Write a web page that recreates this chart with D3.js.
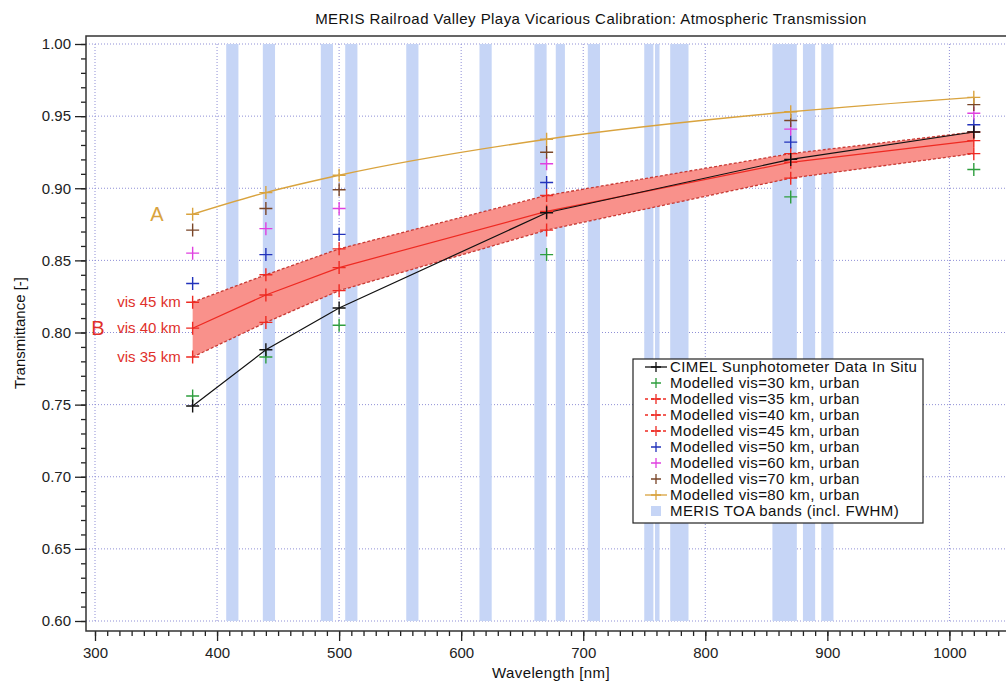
<!DOCTYPE html>
<html>
<head>
<meta charset="utf-8">
<script src="https://cdn.jsdelivr.net/npm/d3@7"></script>
<style>
  body { margin: 0; background: #fff; }
  svg { display: block; font-family: "Liberation Sans", Arial, sans-serif; }
  .tick text { font-size: 15px; fill: #222; }
  .tick line { stroke: #222; stroke-width: 1.3; }
</style>
</head>
<body>
<svg width="1006" height="682"></svg>
<script>
// wavelengths of the CIMEL channels (nm)
const wavelengths = [380, 440, 500, 670, 870, 1020]

const cimel = [0.749, 0.788, 0.817, 0.883, 0.920, 0.939]
const vis30 = [0.756, 0.783, 0.805, 0.854, 0.894, 0.913]
const vis35 = [0.783, 0.807, 0.829, 0.871, 0.907, 0.924]
const vis40 = [0.803, 0.826, 0.845, 0.884, 0.918, 0.933]
const vis45 = [0.821, 0.840, 0.858, 0.895, 0.924, 0.939]
const vis50 = [0.834, 0.854, 0.868, 0.904, 0.932, 0.944]
const vis60 = [0.855, 0.872, 0.886, 0.917, 0.941, 0.952]
const vis70 = [0.871, 0.886, 0.899, 0.925, 0.947, 0.958]
const vis80 = [0.882, 0.897, 0.909, 0.934, 0.953, 0.963]

// MERIS TOA bands: centre and full width (nm)
const bandCenters = [412.5, 442.5, 490, 510, 560, 620, 665, 681.25, 708.75, 753.75, 760.625, 778.75, 865, 885, 900]
const bandWidths = [10, 10, 10, 10, 10, 10, 10, 7.5, 10, 7.5, 3.75, 15, 20, 10, 10]

const yTicks = [0.60, 0.65, 0.70, 0.75, 0.80, 0.85, 0.90, 0.95, 1.00]
const xTicks = [300, 400, 500, 600, 700, 800, 900, 1000]

const legendLabels = [
  'CIMEL Sunphotometer Data In Situ',
  'Modelled vis=30 km, urban',
  'Modelled vis=35 km, urban',
  'Modelled vis=40 km, urban',
  'Modelled vis=45 km, urban',
  'Modelled vis=50 km, urban',
  'Modelled vis=60 km, urban',
  'Modelled vis=70 km, urban',
  'Modelled vis=80 km, urban',
  'MERIS TOA bands (incl. FWHM)'
]

const colors = {
  black: '#111',
  green: '#2e9e3e',
  red: '#ee2a22',
  blue: '#2233bb',
  pink: '#e040e0',
  brown: '#7a4628',
  gold: '#d9a33e',
  band: '#c6d5f6',
  fill: '#f9918b',
  grid: '#8f8fd6'
}

const svg = d3.select('svg')
const width = +svg.attr('width')
const height = +svg.attr('height')

const frame = { left: 86, top: 36, right: width, bottom: 631 }

const xScale = d3.scaleLinear().domain([300, 1000]).range([95, 949.4])
const yScale = d3.scaleLinear().domain([0.6, 1.0]).range([621, 44])

const toPoints = values => values.map((v, i) => ({ x: wavelengths[i], y: v }))

// grid
const grid = svg.append('g')
grid.selectAll('.hgrid').data(yTicks).enter().append('line')
  .attr('x1', frame.left).attr('x2', frame.right)
  .attr('y1', d => yScale(d)).attr('y2', d => yScale(d))
  .style('stroke', colors.grid).style('stroke-dasharray', '1,2')
grid.selectAll('.vgrid').data(xTicks).enter().append('line')
  .attr('x1', d => xScale(d)).attr('x2', d => xScale(d))
  .attr('y1', yScale(1.0)).attr('y2', yScale(0.6))
  .style('stroke', colors.grid).style('stroke-dasharray', '1,2')

// MERIS bands
svg.append('g').selectAll('rect')
  .data(bandCenters)
  .enter().append('rect')
  .attr('x', (d, i) => xScale(d - bandWidths[i] / 2))
  .attr('width', (d, i) => xScale(d + bandWidths[i] / 2) - xScale(d - bandWidths[i] / 2))
  .attr('y', yScale(1.0))
  .attr('height', yScale(0.6) - yScale(1.0))
  .style('fill', colors.band)

// red envelope between vis 35 and vis 45
const area = d3.area()
  .x((d, i) => xScale(wavelengths[i]))
  .y0((d, i) => yScale(vis35[i]))
  .y1((d, i) => yScale(vis45[i]))
svg.append('path').datum(wavelengths)
  .attr('d', area)
  .style('fill', colors.fill)

const line = d3.line().x(d => xScale(d.x)).y(d => yScale(d.y))
const smooth = d3.line().x(d => xScale(d.x)).y(d => yScale(d.y)).curve(d3.curveMonotoneX)

const lines = [
  { data: vis35, color: '#c83a34', dash: '3,2', w: 1.3, gen: line },
  { data: vis45, color: '#c83a34', dash: '3,2', w: 1.3, gen: line },
  { data: vis40, color: colors.red, dash: null, w: 1.2, gen: line },
  { data: vis80, color: colors.gold, dash: null, w: 1.4, gen: smooth },
  { data: cimel, color: colors.black, dash: null, w: 1.2, gen: line }
]
svg.append('g').selectAll('path')
  .data(lines)
  .enter().append('path')
  .attr('d', d => d.gen(toPoints(d.data)))
  .style('fill', 'none')
  .style('stroke', d => d.color)
  .style('stroke-width', d => d.w)
  .style('stroke-dasharray', d => d.dash)

const plus = s => `M${-s},0H${s}M0,${-s}V${s}`

const markerSeries = [
  { data: vis30, color: colors.green },
  { data: vis35, color: colors.red },
  { data: vis40, color: colors.red },
  { data: vis45, color: colors.red },
  { data: vis50, color: colors.blue },
  { data: vis60, color: colors.pink },
  { data: vis70, color: colors.brown },
  { data: vis80, color: colors.gold },
  { data: cimel, color: colors.black }
]
markerSeries.forEach(s => {
  svg.append('g').selectAll('path')
    .data(toPoints(s.data))
    .enter().append('path')
    .attr('transform', d => `translate(${xScale(d.x)}, ${yScale(d.y)})`)
    .attr('d', plus(6.5))
    .style('stroke', s.color)
    .style('stroke-width', 1.4)
})

// axes
const xAxisG = svg.append('g')
  .attr('transform', `translate(0, ${frame.bottom})`)
xAxisG.append('g')
  .call(d3.axisBottom(xScale).tickValues(d3.range(300, 1041, 10)).tickSize(5).tickFormat(''))
xAxisG.append('g')
  .call(d3.axisBottom(xScale).tickValues(xTicks).tickSize(10).tickPadding(6).tickFormat(d3.format('d')))
xAxisG.selectAll('.domain').remove()

const yAxisG = svg.append('g')
  .attr('transform', `translate(${frame.left}, 0)`)
yAxisG.append('g')
  .call(d3.axisLeft(yScale).tickValues(d3.range(60, 101, 1).map(d => d / 100)).tickSize(5).tickFormat(''))
yAxisG.append('g')
  .call(d3.axisLeft(yScale).tickValues(yTicks).tickSize(11).tickPadding(4).tickFormat(d3.format('.2f')))
yAxisG.selectAll('.domain').remove()

// frame
svg.append('path')
  .attr('d', `M${frame.right},${frame.top}H${frame.left}V${frame.bottom}H${frame.right}`)
  .style('fill', 'none')
  .style('stroke', '#333')
  .style('stroke-width', 1.5)

// titles
svg.append('text')
  .attr('x', 591).attr('y', 24)
  .attr('text-anchor', 'middle')
  .style('font-size', '15px').style('letter-spacing', '0.45px').style('fill', '#111')
  .text('MERIS Railroad Valley Playa Vicarious Calibration: Atmospheric Transmission')

svg.append('text')
  .attr('x', 551).attr('y', 678)
  .attr('text-anchor', 'middle')
  .style('font-size', '15px').style('letter-spacing', '0.4px').style('fill', '#111')
  .text('Wavelength [nm]')

svg.append('text')
  .attr('transform', 'translate(25, 333) rotate(-90)')
  .attr('text-anchor', 'middle')
  .style('font-size', '15px').style('fill', '#111')
  .text('Transmittance [-]')

// annotations
const visLabels = ['vis 45 km', 'vis 40 km', 'vis 35 km']
const visValues = [vis45[0], vis40[0], vis35[0]]
svg.append('g').selectAll('text')
  .data(visLabels)
  .enter().append('text')
  .attr('x', xScale(wavelengths[0]) - 12)
  .attr('y', (d, i) => yScale(visValues[i]))
  .attr('dy', '0.35em')
  .attr('text-anchor', 'end')
  .style('font-size', '15px')
  .style('fill', '#e0302a')
  .text(d => d)

svg.append('text')
  .attr('x', 157).attr('y', yScale(vis80[0]))
  .attr('dy', '0.35em')
  .attr('text-anchor', 'middle')
  .style('font-size', '20px').style('fill', colors.gold)
  .text('A')

svg.append('text')
  .attr('x', 98).attr('y', yScale(vis40[0]))
  .attr('dy', '0.35em')
  .attr('text-anchor', 'middle')
  .style('font-size', '20px').style('fill', '#e0302a')
  .text('B')

// legend
const legendItems = [
  { color: colors.black, line: 'solid' },
  { color: colors.green, line: null },
  { color: colors.red, line: 'dash' },
  { color: colors.red, line: 'dash' },
  { color: colors.red, line: 'dash' },
  { color: colors.blue, line: null },
  { color: colors.pink, line: null },
  { color: colors.brown, line: null },
  { color: colors.gold, line: 'solid' },
  { color: colors.band, line: 'box' }
]

const legend = svg.append('g').attr('transform', 'translate(633, 359)')
legend.append('rect')
  .attr('width', 290).attr('height', 164)
  .style('fill', '#fff').style('stroke', '#222').style('stroke-width', 1.2)

const item = legend.selectAll('.item')
  .data(legendItems)
  .enter().append('g')
  .attr('transform', (d, i) => `translate(0, ${8 + i * 16})`)

item.filter(d => d.line === 'solid' || d.line === 'dash')
  .append('line')
  .attr('x1', 12).attr('x2', 34)
  .style('stroke', d => d.color)
  .style('stroke-width', 1.3)
  .style('stroke-dasharray', d => d.line === 'dash' ? '3,3' : null)

item.filter(d => d.line !== 'box')
  .append('path')
  .attr('transform', 'translate(23, 0)')
  .attr('d', plus(5))
  .style('stroke', d => d.color)
  .style('stroke-width', 1.3)

item.filter(d => d.line === 'box')
  .append('rect')
  .attr('x', 18).attr('y', -5).attr('width', 10).attr('height', 10)
  .style('fill', d => d.color)

item.append('text')
  .attr('x', 37)
  .attr('dy', '0.35em')
  .style('font-size', '15px')
  .style('letter-spacing', '0.4px')
  .style('fill', '#111')
  .text((d, i) => legendLabels[i])
</script>
</body>
</html>
